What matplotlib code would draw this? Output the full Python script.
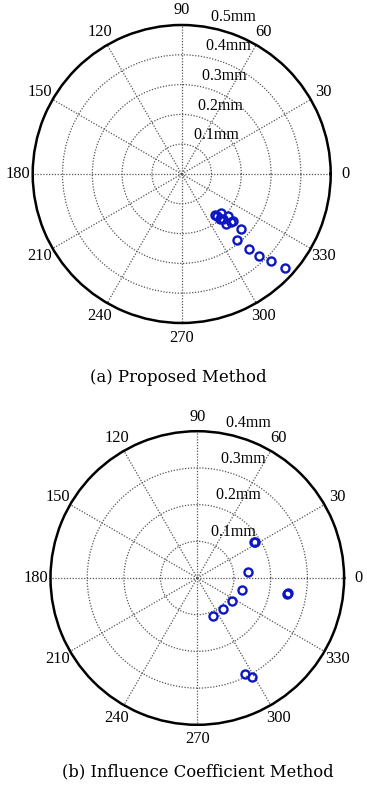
import numpy as np
import matplotlib
matplotlib.use("Agg")
import matplotlib.pyplot as plt

# ---- data ----
# (a) Proposed Method: angle (deg), amplitude (mm)
a_theta = [-50.9, -50.0, -45.0, -49.8, -47.4, -42.5, -48.6, -44.4, -42.1,
           -43.0, -49.9, -47.9, -46.7, -44.2, -42.4]
a_r = [0.177, 0.183, 0.186, 0.199, 0.207, 0.211, 0.225, 0.232, 0.234,
       0.272, 0.289, 0.337, 0.376, 0.418, 0.468]
a_rings = [0.1, 0.2, 0.3, 0.4, 0.5]
a_rmax = 0.5

# (b) Influence Coefficient Method
b_theta = [32.4, 31.6, 7.0, -14.9, -33.3, -50.8, -67.3, -9.2, -9.8, -63.5, -61.3]
b_r = [0.183, 0.185, 0.140, 0.127, 0.114, 0.109, 0.113, 0.251, 0.249, 0.291, 0.308]
b_rings = [0.1, 0.2, 0.3, 0.4]
b_rmax = 0.4

angle_ticks = list(range(0, 360, 30))
captions = ["(a) Proposed Method", "(b) Influence Coefficient Method"]

W, H = 367, 795
fig = plt.figure(figsize=(W / 100, H / 100), dpi=100)

serif = ["Liberation Serif", "DejaVu Serif"]
mcol = "#0c16c4"


def make_polar(rect, theta, r, rings, rmax):
    ax = fig.add_axes(rect, projection="polar")
    ax.set_ylim(0, rmax)
    ax.set_rgrids([x for x in rings if x < rmax - 1e-9], labels=[])
    ax.set_thetagrids(angle_ticks, labels=[])
    ax.grid(True, color="#555555", linestyle=(0, (1, 1.3)), linewidth=0.9)
    ax.spines["polar"].set_linewidth(1.8)
    ax.spines["polar"].set_color("black")
    ax.tick_params(length=0)
    ax.plot(np.deg2rad(theta), r, "o", ms=5.8, mfc="none", mec=mcol, mew=1.7,
            zorder=5, clip_on=False)
    rinc = rings[1] - rings[0]
    for rv in rings:
        ax.text(np.deg2rad(82), rv + rinc / 20, "  %gmm" % rv, ha="left",
                va="bottom", fontsize=11.5, family=serif, clip_on=False,
                zorder=6)
    for a in angle_ticks:
        ax.text(np.deg2rad(a), 1.1 * rmax, str(a), ha="center", va="center",
                fontsize=11.8, family=serif, clip_on=False)
    return ax


# axes placement in figure fractions (centre / radius in pixels)
def rect_from(cx, cy, rad):
    return [(cx - rad) / W, (H - cy - rad) / H, 2 * rad / W, 2 * rad / H]


make_polar(rect_from(181.7, 174.0, 149.0), a_theta, a_r, a_rings, a_rmax)
make_polar(rect_from(197.3, 578.0, 146.8), b_theta, b_r, b_rings, b_rmax)

fig.text(178.7 / W, 1 - 378 / H, captions[0], ha="center", va="center",
         fontsize=11.9, family=["DejaVu Serif"])
fig.text(198.3 / W, 1 - 771.7 / H, captions[1], ha="center", va="center",
         fontsize=11.8, family=["DejaVu Serif"])

fig.savefig("out.png", dpi=100, facecolor="white")
